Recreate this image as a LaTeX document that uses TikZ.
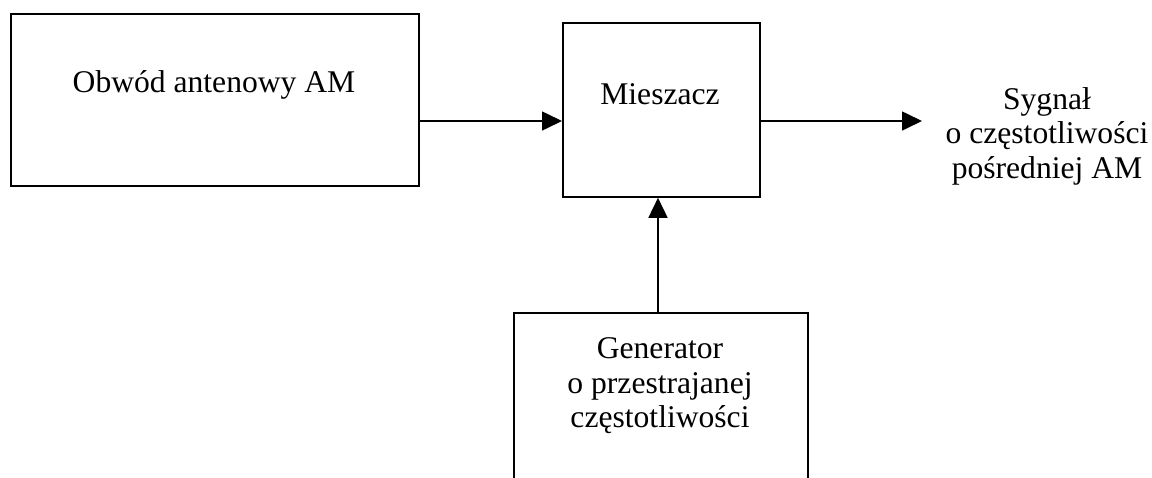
\documentclass[tikz,border=0pt]{standalone}
\usepackage{fontspec}
\setmainfont{Liberation Serif}
\usetikzlibrary{arrows.meta}
\begin{document}
\begin{tikzpicture}[x=0.5pt,y=-0.5pt,
  box/.style={draw, line width=0.9pt, inner sep=0pt, anchor=north west},
  arr/.style={-{Triangle[length=10pt,width=9.5pt]}, line width=0.8pt},
  lbl/.style={font=\fontsize{15.8}{17.2}\selectfont, align=center, inner sep=0pt}]
\useasboundingbox (0,0) rectangle (1152,477);
\node[box, minimum width=204pt, minimum height=86pt] (obw) at (10,13) {};
\node[lbl, anchor=base] (obwt) at (214,92) {Obwód antenowy AM};
\node[box, minimum width=98.5pt, minimum height=87pt] (mix) at (562,22) {};
\node[lbl, anchor=base] (mixt) at (660,104) {Mieszacz};
\coordinate (lvl) at (0,121);
\draw[arr] (obw.east |- lvl) -- (mix.west |- lvl);
\node[lbl] (out) at (1047,136) {Sygnał\\o częstotliwości\\pośredniej AM};
\coordinate (outtip) at (922,121);
\draw[arr] (mix.east |- lvl) -- (outtip);
% generator box, open at the bottom
\coordinate (gtl) at (514,313);
\coordinate (gtr) at (808,313);
\coordinate (gtop) at (658,313);
\draw[line width=0.9pt] (514,480) -- (gtl) -- (gtr) -- (808,480);
\node[lbl] (gen) at (660,386) {Generator\\o przestrajanej\\częstotliwości};
\draw[arr] (gtop) -- (mix.south -| gtop);
\end{tikzpicture}
\end{document}
